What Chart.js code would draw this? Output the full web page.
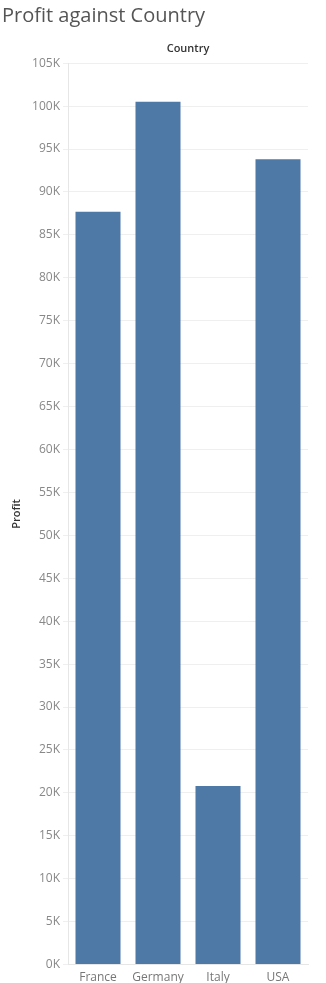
<!DOCTYPE html>
<html>
<head>
<meta charset="utf-8">
<script src="https://cdn.jsdelivr.net/npm/chart.js@4"></script>
<style>
  html, body { margin: 0; padding: 0; background: #fff; }
  #wrap { width: 326px; height: 983px; }
</style>
</head>
<body>
<div id="wrap"><canvas id="profitChart" width="326" height="983"></canvas></div>
<script>
const countries = ["France", "Germany", "Italy", "USA"];
const profit = [87700, 100500, 20800, 93800];
const chartTitle = "Profit against Country";
const xTitle = "Country";
const yTitle = "Profit";

const fontFamily = "'Open Sans', 'Noto Sans', sans-serif";

const ctx = document.getElementById("profitChart");
new Chart(ctx, {
  type: "bar",
  data: {
    labels: countries,
    datasets: [{
      label: yTitle,
      data: profit,
      backgroundColor: "#4e79a7",
      categoryPercentage: 1.0,
      barPercentage: 0.75
    }]
  },
  options: {
    responsive: false,
    animation: false,
    layout: { padding: { left: 2, right: 18, top: 0, bottom: 0 } },
    plugins: {
      legend: { display: false },
      tooltip: { enabled: false },
      title: {
        display: true,
        text: chartTitle,
        align: "start",
        color: "#555",
        font: { family: fontFamily, size: 20, weight: "normal" },
        padding: { top: 4, bottom: 14 }
      }
    },
    scales: {
      x: {
        grid: { display: false },
        border: { color: "#e6e6e6" },
        ticks: { color: "#777", font: { family: fontFamily, size: 12 }, padding: -2 }
      },
      x2: {
        type: "category",
        position: "top",
        labels: countries,
        grid: { display: false },
        border: { display: false },
        ticks: { display: false },
        title: {
          display: true,
          text: xTitle,
          color: "#333",
          font: { family: fontFamily, size: 11, weight: "600" },
          padding: { top: 0, bottom: 0 }
        }
      },
      y: {
        min: 0,
        max: 105000,
        ticks: {
          stepSize: 5000,
          color: "#888",
          font: { family: fontFamily, size: 12 },
          padding: 3,
          callback: v => (v / 1000) + "K"
        },
        grid: { color: "#efefef", tickLength: 5 },
        border: { color: "#e6e6e6" },
        title: {
          display: true,
          text: yTitle,
          color: "#333",
          font: { family: fontFamily, size: 11, weight: "600" },
          padding: { top: 8, bottom: 10 }
        },
        afterFit: scale => { scale.width = 66; }
      }
    }
  }
});
</script>
</body>
</html>
